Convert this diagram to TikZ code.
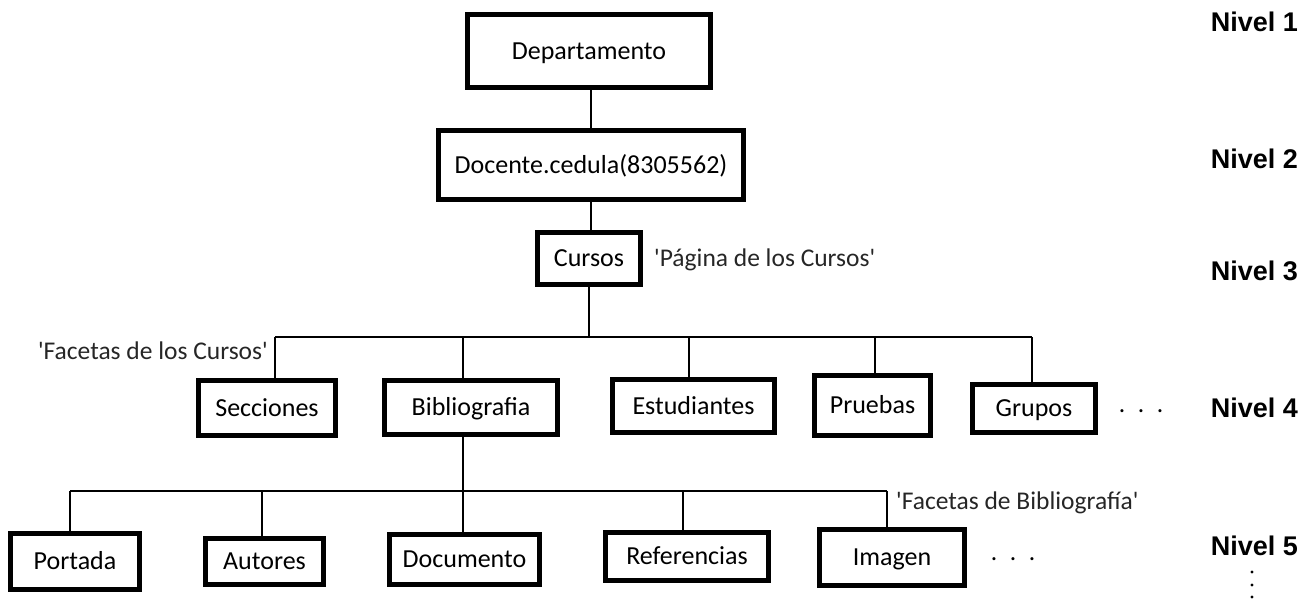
\documentclass[tikz,border=0pt]{standalone}
\usepackage{fontspec}
\setmainfont{Carlito}
\newfontfamily\notefont{Carlito}[Ligatures=TeXOff]
\newfontfamily\nivelfont{Liberation Sans}
\begin{document}
\begin{tikzpicture}[x=1pt,y=-1pt,
  box/.style={draw, line width=5pt, inner sep=0pt, font=\fontsize{26}{30}\selectfont, text height=16.7pt, text depth=0pt},
  conn/.style={line width=1.5pt},
  note/.style={inner sep=0pt, font=\notefont\fontsize{25.5}{30}\selectfont, text=black!85},
  nivel/.style={inner sep=0pt, font=\nivelfont\bfseries\fontsize{27}{32}\selectfont, anchor=base east},
  dotsrow/.style={inner sep=0pt, font=\fontsize{25.5}{30}\selectfont, anchor=base}]
\useasboundingbox (0,0) rectangle (1310,603);

% Level 1-3
\node[box, minimum width=243pt, minimum height=73pt] (dep) at (589,51) {Departamento};
\node[box, minimum width=305pt, minimum height=69pt] (doc) at (591,165) {Docente.cedula(8305562)};
\node[box, minimum width=103pt, minimum height=52pt] (cur) at (589,258.5) {Cursos};
\coordinate (bar4) at (589,337);

% Level 4
\node[box, minimum width=137pt, minimum height=55pt] (sec) at (267,408) {Secciones};
\node[box, minimum width=173pt, minimum height=54pt] (bib) at (471,407.5) {Bibliografia};
\node[box, minimum width=162pt, minimum height=53pt] (est) at (693.5,406) {Estudiantes};
\node[box, minimum width=116pt, minimum height=60pt] (pru) at (872.5,405.5) {Pruebas};
\node[box, minimum width=123pt, minimum height=48pt] (gru) at (1034,408.5) {Grupos};
\coordinate (bar5) at (463,491);

% Level 5
\node[box, minimum width=129pt, minimum height=56pt] (por) at (75,561.5) {Portada};
\node[box, minimum width=118pt, minimum height=46pt] (aut) at (264.5,561.5) {Autores};
\node[box, minimum width=150pt, minimum height=50pt] (docu) at (464.5,559.5) {Documento};
\node[box, minimum width=163pt, minimum height=48pt] (ref) at (687,556.5) {Referencias};
\node[box, minimum width=145pt, minimum height=56pt] (img) at (892,557.5) {Imagen};

% connectors level 1-3
\draw[conn] (dep.south -| doc) -- (doc.north);
\draw[conn] (doc.south) -- (doc.south |- cur.north);
\draw[conn] (cur.south) -- (bar4);

% level 4 bar and drops
\draw[conn] ([xshift=8pt]sec.north |- bar4) -- ([xshift=-2pt]gru.north |- bar4);
\draw[conn] ([xshift=8pt]sec.north) -- ([xshift=8pt]sec.north |- bar4);
\draw[conn] ([xshift=-8pt]bib.north) -- ([xshift=-8pt]bib.north |- bar4);
\draw[conn] ([xshift=-4.5pt]est.north) -- ([xshift=-4.5pt]est.north |- bar4);
\draw[conn] ([xshift=2.5pt]pru.north) -- ([xshift=2.5pt]pru.north |- bar4);
\draw[conn] ([xshift=-2pt]gru.north) -- ([xshift=-2pt]gru.north |- bar4);

% level 5 bar and drops
\draw[conn] ([xshift=-8pt]bib.south) -- ([xshift=-1.5pt]docu.north);
\draw[conn] ([xshift=-5pt]por.north |- bar5) -- ([xshift=-5pt]img.north |- bar5);
\draw[conn] ([xshift=-5pt]por.north) -- ([xshift=-5pt]por.north |- bar5);
\draw[conn] ([xshift=-2.5pt]aut.north) -- ([xshift=-2.5pt]aut.north |- bar5);
\draw[conn] ([xshift=-4pt]ref.north) -- ([xshift=-4pt]ref.north |- bar5);
\draw[conn] ([xshift=-5pt]img.north) -- ([xshift=-5pt]img.north |- bar5);

% notes
\node[note, anchor=base west] (npag) at (654,266) {'Página de los Cursos'};
\node[note, anchor=base east] (nfcur) at (268,359) {'Facetas de los Cursos'};
\node[note, anchor=base west] (nfbib) at (896,509) {'Facetas de Bibliografía'};

% dots
\node[dotsrow] (dots4) at (1141,412) {.\hspace{12.6pt}.\hspace{12.6pt}.};
\node[dotsrow] (dots5) at (1013,560) {.\hspace{12.6pt}.\hspace{12.6pt}.};
\fill (1252,572) circle (1.6pt);
\fill (1252,585) circle (1.6pt);
\fill (1252,597) circle (1.6pt);

% levels
\node[nivel] (n1) at (1298,31) {Nivel 1};
\node[nivel] (n2) at (1298,168) {Nivel 2};
\node[nivel] (n3) at (1298,280) {Nivel 3};
\node[nivel] (n4) at (1298,417) {Nivel 4};
\node[nivel] (n5) at (1298,555) {Nivel 5};
\end{tikzpicture}
\end{document}
